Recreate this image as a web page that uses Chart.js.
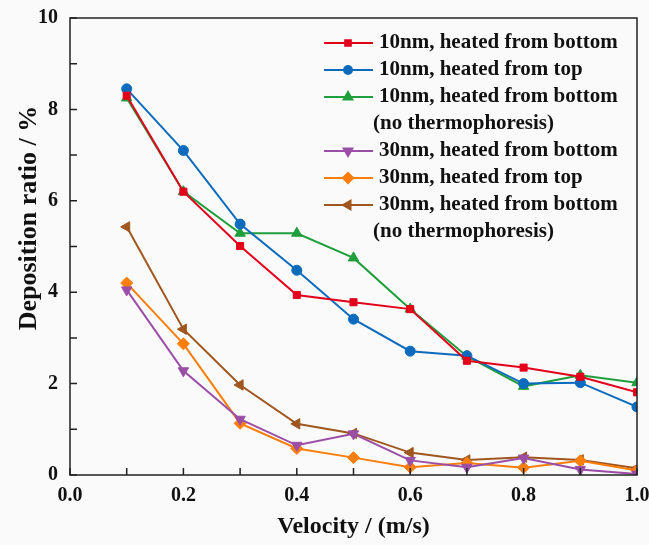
<!DOCTYPE html>
<html>
<head>
<meta charset="utf-8">
<script src="https://cdn.jsdelivr.net/npm/chart.js@4/dist/chart.umd.min.js"></script>
<style>
  body { margin: 0; background: #fafafa; }
  #wrap { width: 649px; height: 545px; }
</style>
</head>
<body>
<div id="wrap"><canvas id="myChart" width="649" height="545"></canvas></div>
<script>
// velocities (m/s)
var velocity = [0.1, 0.2, 0.3, 0.4, 0.5, 0.6, 0.7, 0.8, 0.9, 1.0];

// deposition ratio (%)
var d10Bottom   = [8.30, 6.20, 5.01, 3.94, 3.78, 3.63, 2.50, 2.35, 2.15, 1.81];
var d10Top      = [8.45, 7.10, 5.49, 4.48, 3.41, 2.71, 2.61, 2.00, 2.02, 1.49];
var d10NoThermo = [8.25, 6.20, 5.29, 5.29, 4.75, 3.63, 2.60, 1.94, 2.18, 2.02];
var d30Bottom   = [4.05, 2.28, 1.22, 0.65, 0.90, 0.32, 0.17, 0.37, 0.12, 0.02];
var d30Top      = [4.20, 2.87, 1.13, 0.58, 0.38, 0.17, 0.26, 0.16, 0.31, 0.10];
var d30NoThermo = [5.43, 3.19, 1.97, 1.12, 0.91, 0.49, 0.33, 0.39, 0.33, 0.15];

var labels = [
  ['10nm, heated from bottom'],
  ['10nm, heated from top'],
  ['10nm, heated from bottom', '(no thermophoresis)'],
  ['30nm, heated from bottom'],
  ['30nm, heated from top'],
  ['30nm, heated from bottom', '(no thermophoresis)']
];

var serif = "'Liberation Serif', 'Times New Roman', serif";

function pts(arr) {
  return arr.map(function(v, i) { return { x: velocity[i], y: v }; });
}

function series(idx, arr, color, style, rot, r) {
  return {
    label: labels[idx].join(' '),
    data: pts(arr),
    borderColor: color,
    backgroundColor: color,
    borderWidth: 2,
    pointStyle: style,
    rotation: rot,
    pointRadius: r,
    pointHoverRadius: r,
    pointBorderWidth: 1,
    tension: 0
  };
}

var datasets = [
  series(0, d10Bottom,   '#e3001b', 'rect', 0, 5),
  series(1, d10Top,      '#0c6bbd', 'circle', 0, 5),
  series(2, d10NoThermo, '#1f9e3c', 'triangle', 0, 6),
  series(3, d30Bottom,   '#9b4ea6', 'triangle', 180, 6),
  series(4, d30Top,      '#fb7d0a', 'rectRot', 0, 6),
  series(5, d30NoThermo, '#a0561f', 'triangle', -90, 6)
];

// background, frame, inward ticks, y title, legend
var decor = {
  id: 'decor',
  beforeDraw: function(chart) {
    var c = chart.ctx;
    c.save();
    c.fillStyle = '#fafafa';
    c.fillRect(0, 0, chart.width, chart.height);
    c.restore();
  },
  afterDraw: function(chart) {
    var c = chart.ctx;
    var a = chart.chartArea;
    var xs = chart.scales.x, ys = chart.scales.y;
    c.save();
    c.strokeStyle = '#222';
    c.lineWidth = 1.5;
    c.strokeRect(a.left, a.top, a.right - a.left, a.bottom - a.top);
    c.beginPath();
    xs.ticks.forEach(function(t) {
      var px = xs.getPixelForValue(t.value);
      c.moveTo(px, a.bottom); c.lineTo(px, a.bottom - 7);
    });
    ys.ticks.forEach(function(t) {
      var py = ys.getPixelForValue(t.value);
      c.moveTo(a.left, py); c.lineTo(a.left + 7, py);
    });
    c.stroke();

    // y axis title
    c.fillStyle = '#111';
    c.font = 'bold 26px ' + serif;
    c.textAlign = 'center';
    c.textBaseline = 'middle';
    c.translate(29, 218);
    c.rotate(-Math.PI / 2);
    c.fillText('Deposition ratio / %', 0, 0);
    c.restore();

    // legend
    c.save();
    c.font = 'bold 21px ' + serif;
    c.textBaseline = 'middle';
    c.textAlign = 'left';
    var y = 43;
    chart.data.datasets.forEach(function(ds, i) {
      c.strokeStyle = ds.borderColor;
      c.lineWidth = 2;
      c.beginPath();
      c.moveTo(324, y); c.lineTo(373, y);
      c.stroke();
      c.fillStyle = ds.backgroundColor;
      Chart.helpers.drawPoint(c, {
        pointStyle: ds.pointStyle, rotation: ds.rotation,
        radius: ds.pointRadius - 1, borderWidth: 1
      }, 348, y);
      c.fillStyle = '#111';
      labels[i].forEach(function(line, j) {
        c.fillText(line, j === 0 ? 379 : 373, y);
        y += 27;
      });
    });
    c.restore();
  }
};

var ctx = document.getElementById('myChart').getContext('2d');

var myChart = new Chart(ctx, {
  type: 'line',
  data: { datasets: datasets },
  options: {
    responsive: false,
    animation: false,
    layout: { padding: { top: 18, right: 12, left: 0, bottom: 0 } },
    plugins: {
      legend: { display: false },
      tooltip: { enabled: false }
    },
    scales: {
      x: {
        type: 'linear',
        min: 0, max: 1,
        afterFit: function(s) { s.height = 70; s.paddingRight = 0; s.paddingLeft = 0; },
        grid: { drawOnChartArea: false, drawTicks: false },
        border: { display: false },
        ticks: {
          stepSize: 0.1,
          padding: 9,
          color: '#111',
          font: { family: serif, size: 20, weight: 'bold' },
          maxRotation: 0,
          autoSkip: false,
          callback: function(v, i) { return i % 2 === 0 ? v.toFixed(1) : ''; }
        },
        title: {
          display: true,
          text: 'Velocity / (m/s)',
          color: '#111',
          font: { family: serif, size: 24, weight: 'bold' },
          padding: { top: 4, bottom: 4 }
        }
      },
      y: {
        min: 0, max: 10,
        afterFit: function(s) { s.width = 70; s.paddingTop = 0; s.paddingBottom = 0; },
        grid: { drawOnChartArea: false, drawTicks: false },
        border: { display: false },
        ticks: {
          stepSize: 1,
          padding: 12,
          color: '#111',
          font: { family: serif, size: 20, weight: 'bold' },
          autoSkip: false,
          callback: function(v) { return v % 2 === 0 ? String(v) : ''; }
        }
      }
    }
  },
  plugins: [decor]
});
</script>
</body>
</html>
